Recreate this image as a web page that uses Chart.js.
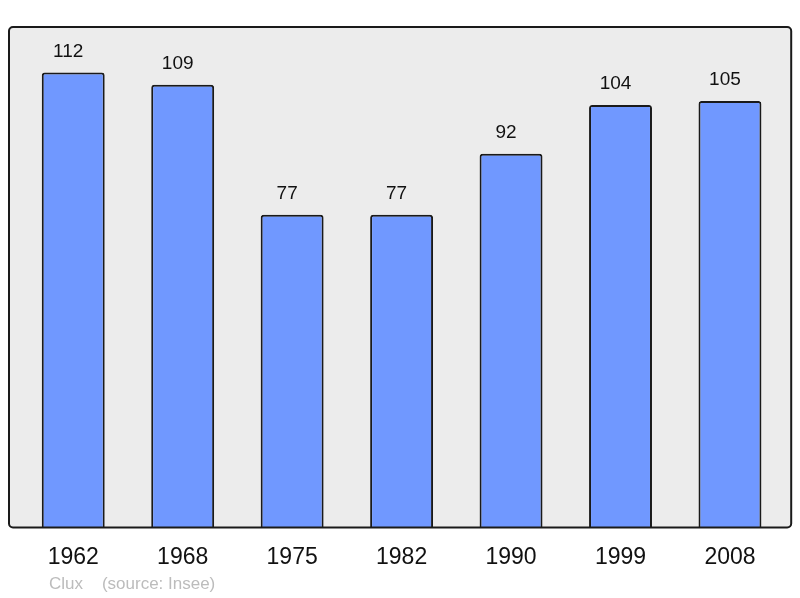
<!DOCTYPE html>
<html>
<head>
<meta charset="utf-8">
<script src="https://cdn.jsdelivr.net/npm/chart.js@4"></script>
<style>
  html, body { margin: 0; padding: 0; background: #fff; }
  #wrap { width: 800px; height: 598px; }
</style>
</head>
<body>
<div id="wrap"><canvas id="chart" width="800" height="598"></canvas></div>
<script>
// population chart
const years = ["1962", "1968", "1975", "1982", "1990", "1999", "2008"];
const population = [112, 109, 77, 77, 92, 104, 105];
const footerText = "Clux    (source: Insee)";

const panelPlugin = {
  id: "panel",
  beforeDatasetsDraw(chart) {
    const { ctx, chartArea } = chart;
    ctx.save();
    ctx.beginPath();
    ctx.roundRect(chartArea.left - 9.5, chartArea.top, chartArea.right - chartArea.left + 16, chartArea.bottom - chartArea.top, 4);
    ctx.fillStyle = "#ececec";
    ctx.fill();
    ctx.restore();
  },
  afterDatasetsDraw(chart) {
    const { ctx, chartArea } = chart;
    ctx.save();
    ctx.beginPath();
    ctx.roundRect(chartArea.left - 9.5, chartArea.top, chartArea.right - chartArea.left + 16, chartArea.bottom - chartArea.top, 4);
    ctx.lineWidth = 2;
    ctx.strokeStyle = "#1a1a1a";
    ctx.stroke();

    // values above bars (sit a little left of centre, like the original)
    const meta = chart.getDatasetMeta(0);
    ctx.fillStyle = "#111";
    ctx.font = "19px 'Liberation Sans', Arial, sans-serif";
    ctx.textAlign = "center";
    ctx.textBaseline = "middle";
    meta.data.forEach((bar, i) => {
      ctx.fillText(String(population[i]), bar.x - 5, bar.y - 21);
    });

    // footer
    ctx.fillStyle = "#bcbcbc";
    ctx.font = "17px 'Liberation Sans', Arial, sans-serif";
    ctx.textAlign = "left";
    ctx.fillText(footerText, 49, 584);
    ctx.restore();
  },
};

document.addEventListener("DOMContentLoaded", () => {
  const ctx = document.getElementById("chart").getContext("2d");

  new Chart(ctx, {
    type: "bar",
    data: {
      labels: years,
      datasets: [
        {
          data: population,
          backgroundColor: "#7098ff",
          borderColor: "#1a1a1a",
          borderWidth: 2,
          borderRadius: { topLeft: 3, topRight: 3 },
          barPercentage: 0.575,
          categoryPercentage: 1,
        },
      ],
    },
    options: {
      responsive: false,
      animation: false,
      layout: {
        padding: { left: 18.5, right: 15.3, top: 27, bottom: 11 },
      },
      plugins: {
        legend: { display: false },
        tooltip: { enabled: false },
      },
      scales: {
        x: {
          grid: { display: false, drawTicks: false },
          border: { display: false },
          ticks: {
            color: "#111",
            font: { family: "'Liberation Sans', Arial, sans-serif", size: 23 },
            padding: 16,
          },
        },
        y: {
          display: false,
          min: 0,
          max: 123.2,
        },
      },
    },
    plugins: [panelPlugin],
  });
});
</script>
</body>
</html>
